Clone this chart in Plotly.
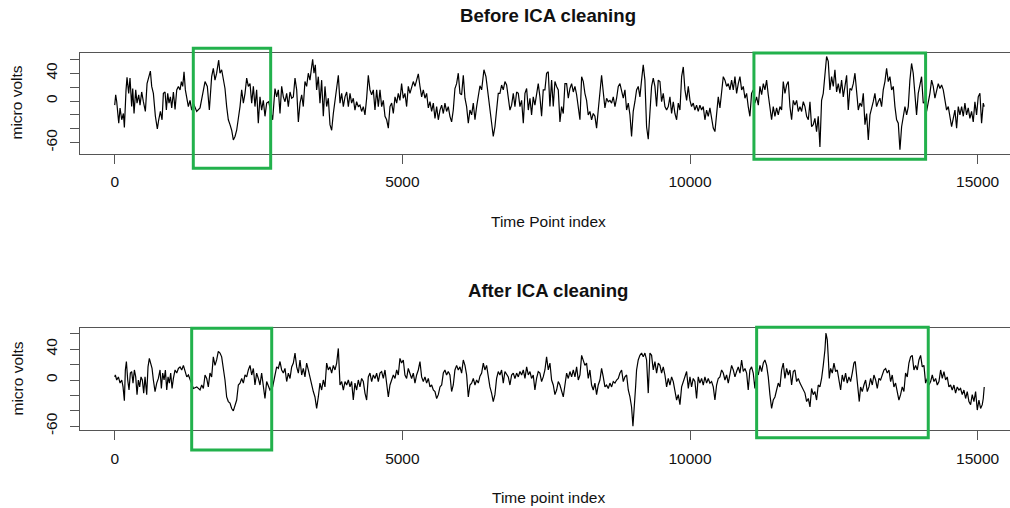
import plotly.graph_objects as go

# ---------------- data ----------------
before_idx = [0,17,35,70,93,122,151,168,197,214,243,266,295,313,336,365,388,417,440,469,498,533,562,597,620,643,672,707,741,765,794,823,846,875,898,921,944,968,991,1020,1049,1078,1107,1136,1159,1182,1205,1228,1251,1280,1309,1338,1367,1425,1483,1529,1570,1610,1645,1685,1714,1743,1772,1807,1830,1859,1888,1917,1946,1975,2004,2033,2062,2091,2120,2149,2178,2207,2236,2265,2294,2323,2352,2381,2410,2438,2467,2496,2525,2554,2583,2612,2641,2676,2711,2745,2786,2815,2844,2873,2902,2931,2960,2989,3018,3047,3076,3105,3134,3163,3192,3221,3250,3278,3307,3336,3365,3394,3423,3441,3464,3487,3510,3539,3568,3597,3626,3655,3684,3713,3742,3771,3800,3829,3858,3887,3916,3945,3974,4003,4032,4061,4090,4118,4147,4176,4205,4234,4263,4292,4321,4350,4379,4408,4437,4466,4495,4524,4553,4582,4611,4640,4669,4698,4727,4756,4785,4814,4843,4872,4901,4929,4958,4987,5016,5045,5074,5103,5132,5161,5190,5219,5248,5277,5306,5335,5364,5393,5422,5451,5480,5509,5538,5567,5596,5625,5654,5683,5712,5740,5769,5798,5827,5856,5885,5914,5943,5972,6001,6030,6059,6088,6117,6146,6175,6204,6233,6262,6291,6320,6349,6378,6418,6453,6482,6511,6551,6580,6609,6638,6667,6696,6725,6754,6783,6812,6841,6870,6899,6928,6957,6986,7015,7044,7073,7102,7131,7160,7189,7218,7246,7275,7304,7333,7362,7391,7420,7449,7478,7507,7536,7565,7594,7623,7652,7681,7710,7739,7768,7797,7826,7855,7884,7913,7942,7971,8000,8029,8058,8087,8116,8145,8173,8202,8231,8260,8289,8318,8347,8376,8405,8434,8463,8492,8521,8550,8579,8608,8637,8666,8695,8724,8753,8782,8811,8840,8869,8898,8927,8956,8984,9013,9042,9071,9100,9129,9158,9187,9216,9245,9274,9303,9332,9361,9390,9419,9448,9477,9506,9535,9564,9593,9622,9651,9680,9709,9738,9767,9796,9825,9854,9883,9912,9941,9970,9999,10027,10056,10085,10114,10143,10172,10201,10230,10259,10288,10317,10346,10375,10404,10433,10462,10491,10520,10549,10578,10607,10636,10665,10694,10723,10752,10781,10810,10839,10868,10897,10926,10955,10984,11012,11041,11070,11099,11128,11157,11187,11216,11245,11274,11302,11331,11360,11389,11418,11447,11476,11505,11534,11563,11592,11621,11650,11679,11708,11737,11766,11795,11824,11853,11882,11911,11940,11969,11998,12027,12056,12085,12113,12142,12171,12200,12229,12258,12287,12316,12345,12374,12403,12432,12461,12490,12519,12548,12577,12606,12635,12664,12693,12722,12751,12780,12809,12838,12867,12896,12925,12954,12983,13012,13041,13070,13099,13128,13156,13185,13214,13243,13272,13301,13330,13359,13388,13417,13446,13475,13504,13533,13562,13591,13620,13649,13678,13707,13736,13765,13794,13822,13851,13880,13909,13938,13967,13996,14025,14054,14083,14112,14141,14170,14199,14228,14257,14286,14315,14344,14373,14402,14431,14460,14489,14518,14547,14576,14605,14634,14663,14692,14721,14750,14778,14807,14836,14865,14894,14923,14952,14981,15010,15039,15068,15097,15114]
before_uv = [-6,9,-1,-32,-10,-27,-18,-38,16,34,11,33,-8,18,-18,16,-3,9,-6,13,-1,-15,25,36,43,21,11,-22,-40,-27,-15,-27,11,13,-13,11,-3,6,-10,13,-12,16,21,16,28,21,42,16,4,-8,1,-13,-3,-15,-10,11,28,21,-13,35,47,30,40,59,40,45,28,18,-8,-27,-34,-42,-56,-51,-42,-27,-8,16,-3,11,33,21,25,-3,21,-8,16,-32,6,-13,1,-22,-3,-1,-15,-27,18,6,16,-18,21,6,-1,11,-8,13,4,6,33,16,-30,-3,9,-8,28,21,40,30,49,60,40,52,16,35,-3,30,-22,21,-8,4,-34,-42,-18,-1,16,37,-3,11,-8,6,13,-8,11,-3,4,-13,-1,-8,-6,-15,-8,-20,4,37,16,9,16,-13,16,-8,16,-8,1,-22,-27,-39,-8,-3,-18,6,-3,11,1,25,4,11,-8,21,11,21,28,21,30,39,21,6,16,4,11,-10,-1,-15,-3,-25,-8,-27,-13,-6,-18,-3,-15,-8,-22,-30,-13,18,25,40,11,9,37,4,-8,-32,-13,-20,-3,-27,-8,11,22,16,45,35,16,-8,-27,-51,-37,-8,11,11,23,16,28,23,4,-13,-6,11,-8,13,11,-8,1,-32,11,18,-13,4,-20,6,-6,9,25,6,-22,16,16,40,42,-8,30,-8,28,21,16,-30,-8,-18,25,25,4,18,25,13,21,9,-13,-27,35,28,11,1,-20,-15,-27,-18,-22,-39,-13,9,37,13,-10,4,-1,1,-3,6,-8,4,21,25,13,4,16,-13,-3,-20,-51,-15,-1,16,21,6,30,52,30,-37,-55,-8,21,33,21,-8,30,28,-1,11,-8,-13,-8,6,-18,-1,-18,-27,-3,-13,35,49,16,1,21,1,-8,-3,-13,-6,-15,-6,-13,-8,-27,-13,-22,-10,-27,-39,-44,-18,6,-10,11,35,30,21,25,16,30,16,35,11,25,35,16,21,4,11,-8,-22,11,16,-3,6,-6,21,9,25,16,30,9,-13,-27,-8,-22,-10,-20,-8,-13,28,11,23,28,-8,-27,1,-6,1,-15,-8,-15,-1,-8,-22,-27,-1,-37,-34,-25,-44,-22,-66,1,11,40,64,57,16,35,21,45,13,25,11,30,6,21,37,-13,18,16,25,40,11,-13,-3,-8,11,-34,-18,-56,-20,-8,-1,11,-8,-1,4,-8,16,28,47,28,35,16,21,-8,-27,-32,-70,-37,-22,-8,-20,-8,30,54,40,6,-20,11,25,35,-3,-1,-15,-3,11,30,21,4,16,25,18,23,16,4,-13,-8,-22,-37,-25,-13,-39,-8,-20,-8,-22,-3,-20,-10,-25,-15,-30,-1,-20,6,11,-32,-3,-8]

after_idx = [0,11,35,64,93,122,145,168,185,203,226,249,272,295,318,342,365,388,411,434,457,480,504,527,556,579,602,626,649,672,701,730,759,788,811,834,858,881,904,927,950,973,997,1020,1049,1078,1107,1136,1165,1194,1223,1252,1281,1310,1339,1368,1426,1483,1512,1541,1570,1599,1627,1656,1685,1714,1743,1772,1801,1830,1859,1888,1917,1946,1975,2004,2033,2062,2091,2120,2149,2178,2207,2236,2265,2294,2323,2352,2381,2410,2438,2467,2496,2525,2554,2583,2612,2641,2670,2699,2745,2786,2815,2844,2873,2902,2931,2960,2989,3018,3047,3076,3105,3134,3163,3192,3221,3250,3278,3307,3336,3365,3394,3423,3452,3481,3510,3539,3568,3597,3626,3655,3684,3713,3742,3771,3800,3829,3858,3887,3916,3945,3974,4003,4032,4061,4090,4118,4147,4176,4205,4234,4263,4292,4321,4350,4379,4408,4437,4466,4495,4524,4553,4582,4611,4640,4669,4698,4727,4756,4785,4814,4843,4872,4901,4929,4958,4987,5016,5045,5074,5103,5132,5161,5190,5219,5248,5277,5306,5335,5364,5393,5422,5451,5480,5509,5538,5567,5596,5625,5654,5683,5712,5740,5769,5798,5827,5856,5885,5914,5943,5972,6001,6030,6059,6088,6117,6146,6175,6204,6233,6262,6291,6320,6349,6378,6407,6435,6464,6493,6522,6551,6580,6609,6638,6667,6696,6725,6754,6783,6812,6841,6870,6899,6928,6957,6986,7015,7044,7073,7102,7131,7160,7189,7218,7246,7275,7304,7333,7362,7391,7420,7449,7478,7507,7536,7565,7594,7623,7652,7681,7710,7739,7768,7797,7826,7855,7884,7913,7942,7971,8000,8029,8058,8087,8116,8145,8173,8202,8231,8260,8289,8318,8347,8376,8405,8434,8463,8492,8521,8550,8579,8608,8637,8666,8695,8724,8753,8782,8811,8840,8869,8898,8927,8956,8984,9008,9031,9054,9071,9100,9129,9158,9187,9216,9245,9274,9303,9332,9361,9390,9419,9448,9477,9506,9535,9564,9593,9622,9651,9680,9709,9738,9767,9796,9825,9854,9883,9912,9941,9970,9999,10027,10056,10085,10114,10143,10172,10201,10230,10259,10288,10317,10346,10375,10404,10433,10462,10491,10520,10549,10578,10607,10636,10665,10694,10723,10752,10781,10810,10839,10868,10897,10926,10955,10984,11012,11041,11070,11099,11128,11157,11187,11216,11245,11274,11302,11331,11360,11389,11418,11447,11476,11505,11534,11563,11592,11621,11650,11679,11708,11737,11766,11795,11824,11853,11882,11911,11940,11969,11998,12027,12056,12085,12113,12142,12171,12200,12229,12258,12287,12316,12345,12363,12386,12403,12421,12444,12473,12502,12531,12560,12589,12618,12646,12675,12704,12733,12762,12791,12820,12849,12872,12896,12925,12942,12965,12994,13023,13052,13081,13110,13139,13168,13197,13226,13255,13284,13313,13342,13371,13400,13429,13458,13487,13515,13544,13573,13602,13631,13660,13689,13718,13747,13776,13805,13834,13863,13892,13921,13950,13979,14008,14037,14066,14095,14124,14153,14182,14211,14240,14269,14298,14327,14356,14385,14414,14443,14471,14500,14529,14558,14587,14616,14645,14674,14703,14732,14761,14790,14819,14848,14877,14906,14935,14964,14993,15022,15051,15080,15097,15114]
after_uv = [4,6.5,0,4,-4,0,-9,-27,13,24,0,-13,9,11,-4,13,4,-19,0,-9,4,0,-17,4,-19,17,28,22,15,0,-15,-4,2,13,-11,9,0,13,-13,4,-4,9,-11,2,13,9,15,17,13,19,11,4,6.5,0,-4,-11,-9,-13,-6.5,-11,6.5,2,-9,9,4,30,19,26,37,35,30,17,0,-22,-28,-30,-37,-40,-32,-26,-6.5,-4,2,-4,6.5,4,13,19,6.5,15,-6.5,9,2,-6.5,9,-9,-24,-2,-9,-13,-9,6.5,17,15,24,13,9,15,-2,9,2,17,22,35,17,9,26,6.5,15,4,22,13,2,-9,-15,-22,-37,-22,-4,-13,0,-9,22,13,17,9,19,13,22,41,-6.5,-2,-13,-2,-6.5,0,-9,-2,-26,-4,-13,0,-9,2,-2,-17,-26,4,9,-2,6.5,2,9,-2,9,11,2,13,-9,-22,-6.5,0,6.5,2,13,6.5,28,22,26,6.5,2,15,9,2,9,-4,6.5,13,24,4,-2,4,-4,2,-9,-6.5,-13,-15,-24,-19,-9,-6.5,9,13,6.5,11,6.5,-15,-6.5,13,19,13,17,9,26,19,6.5,-22,-6.5,-4,2,-6.5,0,-4,5,9,22,13,19,2,-9,-17,-28,-19,2,11,6.5,13,-4,11,6.5,4,-6.5,6.5,9,2,9,4,11,6.5,13,2,17,6.5,11,2,6.5,-13,2,11,9,-2,4,13,30,13,22,0,-6.5,-19,-13,-2,-6.5,-13,-22,-6.5,9,2,11,4,13,4,17,0,6.5,32,26,19,22,2,13,-6.5,-13,-4,-19,-6.5,0,15,4,-9,-6.5,-11,-4,-9,-2,-4,0,2,9,13,-2,4,6.5,-13,-22,-35,-60,-26,-9,13,26,32,35,30,35,26,-17,35,32,13,24,9,22,19,9,17,6.5,-9,2,-6.5,4,-2,-15,-26,-19,-32,-9,-2,6.5,11,-11,4,-9,2,-2,-24,4,-4,2,-6.5,4,-4,2,-4,-2,-9,-26,-6.5,2,4,13,9,0,6.5,-4,6.5,19,13,4,11,17,9,26,11,15,9,-13,13,17,9,-11,13,6.5,19,11,22,26,19,4,-19,-37,-26,-22,-13,-4,-9,13,22,2,15,6.5,13,-6.5,11,13,-2,2,-4,-9,-13,-17,-28,-24,-35,-11,-19,-15,-26,-6.5,-9,2,19,39,61,52,30,2,15,9,22,11,13,0,-13,6.5,-2,9,-4,4,-2,9,22,24,4,-11,-28,-9,-15,-6.5,0,-15,-9,2,-6.5,6.5,0,-11,2,0,6.5,13,15,9,13,-2,6.5,-9,-4,-15,-26,-19,-9,-15,9,4,22,30,32,13,19,13,26,32,17,19,-4,2,-6.5,-2,6.5,-2,2,-6.5,-2,13,2,11,0,4,-9,-6.5,-13,-6.5,-17,-9,-13,-11,-19,-13,-24,-15,-28,-32,-19,-28,-15,-39,-26,-37,-32,-24,-9]

titles = ["Before ICA cleaning", "After ICA cleaning"]
x_titles = ["Time Point index", "Time point index"]
y_title = "micro volts"

x_ticks = [0, 5000, 10000, 15000]
y_ticks = [-60, -40, -20, 0, 20, 40, 60]
y_ticktext = ["-60", "", "", "0", "", "40", ""]

x_range = [-612, 15562]
before_yrange = [-75.8, 69.5]
after_yrange = [-64.9, 67.1]

# highlighted regions: (index start, index end, uV low, uV high)
before_boxes = [(1366, 2711, -96.8, 75.8), (11111, 14095, -83.9, 69.1)]
after_boxes = [(1338, 2729, -90.9, 67.1), (11158, 14141, -74.9, 68.4)]

# ---------------- layout geometry ----------------
W, H = 1010, 508
FONT = "Liberation Sans, Arial, sans-serif"
FRAME = "#555555"
GREEN = "#22b14c"

def px_x(p):
    return p / W

def px_y(p):
    return 1 - p / H

xdom = [px_x(79.5), 1.0]
y1dom = [px_y(153.7), px_y(52.7)]
y2dom = [px_y(430.0), px_y(328.3)]

fig = go.Figure()
fig.add_trace(go.Scatter(x=before_idx, y=before_uv, mode="lines",
                         line=dict(color="black", width=1.2), xaxis="x", yaxis="y",
                         showlegend=False, hoverinfo="skip"))
fig.add_trace(go.Scatter(x=after_idx, y=after_uv, mode="lines",
                         line=dict(color="black", width=1.2), xaxis="x2", yaxis="y2",
                         showlegend=False, hoverinfo="skip"))

xcommon = dict(domain=xdom, range=x_range, tickvals=x_ticks,
               ticktext=[str(v) for v in x_ticks],
               showline=True, linecolor=FRAME, linewidth=1, mirror=True,
               ticks="outside", ticklen=9, tickcolor=FRAME, tickwidth=1,
               ticklabelstandoff=5,
               showgrid=False, zeroline=False, automargin=False,
               tickfont=dict(family=FONT, size=15.5, color="#111"))
ycommon = dict(tickvals=y_ticks, ticktext=y_ticktext, tickangle=-90,
               showline=True, linecolor=FRAME, linewidth=1, mirror=False,
               ticks="outside", ticklen=9, tickcolor=FRAME, tickwidth=1,
               ticklabelstandoff=6,
               showgrid=False, zeroline=False, automargin=False,
               tickfont=dict(family=FONT, size=15.5, color="#111"))

fig.update_layout(
    width=W, height=H,
    margin=dict(l=0, r=0, t=0, b=0),
    paper_bgcolor="white", plot_bgcolor="white",
    xaxis=dict(anchor="y", **xcommon),
    xaxis2=dict(anchor="y2", **xcommon),
    yaxis=dict(anchor="x", domain=y1dom, range=before_yrange, **ycommon),
    yaxis2=dict(anchor="x2", domain=y2dom, range=after_yrange, **ycommon),
)

shapes = []
for boxes, xr, yr, rng in ((before_boxes, "x", "y domain", before_yrange),
                           (after_boxes, "x2", "y2 domain", after_yrange)):
    lo, hi = rng
    for x0, x1, v0, v1 in boxes:
        shapes.append(dict(type="rect", xref=xr, yref=yr,
                           x0=x0, x1=x1,
                           y0=(v0 - lo) / (hi - lo), y1=(v1 - lo) / (hi - lo),
                           line=dict(color=GREEN, width=3), fillcolor="rgba(0,0,0,0)",
                           layer="above"))
fig.update_layout(shapes=shapes)

ann = []
cx = px_x(548)
for t, y in zip(titles, (15.5, 290.5)):
    ann.append(dict(text="<b>%s</b>" % t, x=cx, y=px_y(y), xref="paper", yref="paper",
                    showarrow=False, xanchor="center", yanchor="middle",
                    font=dict(family=FONT, size=18.6, color="#111")))
for t, y in zip(x_titles, (221, 497)):
    ann.append(dict(text=t, x=cx, y=px_y(y), xref="paper", yref="paper",
                    showarrow=False, xanchor="center", yanchor="middle",
                    font=dict(family=FONT, size=15.5, color="#111")))
for y in (103, 379):
    ann.append(dict(text=y_title, x=px_x(16.5), y=px_y(y), xref="paper", yref="paper",
                    showarrow=False, xanchor="center", yanchor="middle", textangle=-90,
                    font=dict(family=FONT, size=15.5, color="#111")))
fig.update_layout(annotations=ann)

fig.write_html("out.html")
